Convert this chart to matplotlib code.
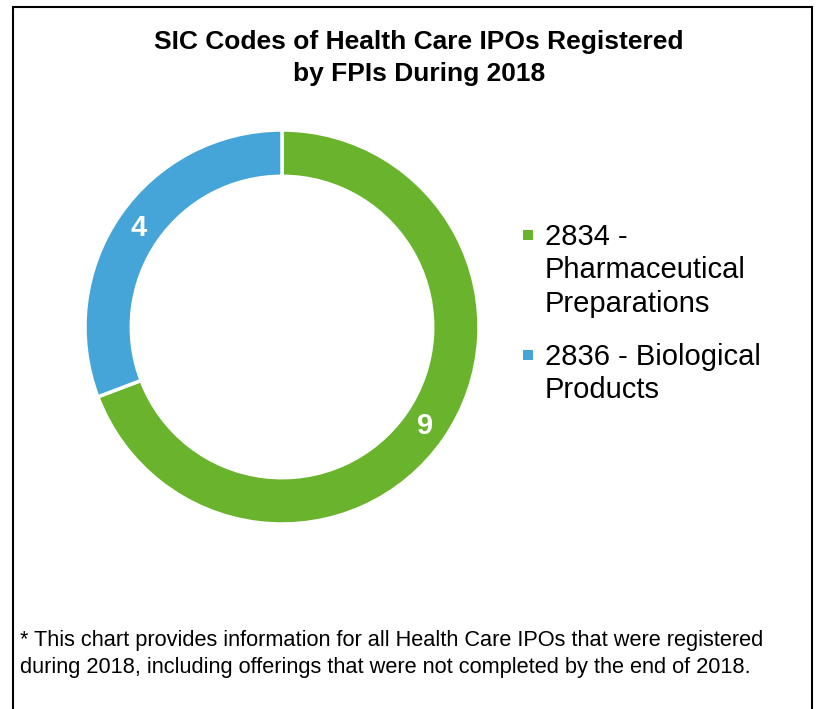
import matplotlib.pyplot as plt
from matplotlib.patches import Rectangle

plt.rcParams['font.family'] = ['Liberation Sans', 'DejaVu Sans']

# Data
labels = ['2834 -\nPharmaceutical\nPreparations', '2836 - Biological\nProducts']
counts = [9, 4]
colors = ['#6AB42D', '#45A5D8']

title = 'SIC Codes of Health Care IPOs Registered\nby FPIs During 2018'
note = ('* This chart provides information for all Health Care IPOs that were registered\n'
        'during 2018, including offerings that were not completed by the end of 2018.')

W, H = 825, 709
fig = plt.figure(figsize=(W / 100, H / 100), dpi=100)

# donut: centre ~(282, 327) px, outer radius ~197 px
cx, cy, r = 282, 327, 197
ax = fig.add_axes([(cx - r) / W, 1 - (cy + r) / H, 2 * r / W, 2 * r / H])
wedges, texts = ax.pie(counts, colors=colors, startangle=90, counterclock=False,
                       radius=1.0, labels=[str(c) for c in counts],
                       labeldistance=0.883,
                       wedgeprops=dict(width=0.235, edgecolor='white', linewidth=2.5),
                       textprops=dict(color='white', fontsize=21, fontweight='bold',
                                      ha='center', va='center'))
ax.set_xlim(-1, 1)
ax.set_ylim(-1, 1)
ax.set_aspect('equal')
ax.axis('off')

# title
fig.text(419 / W, 1 - 58 / H, title, ha='center', va='center', fontsize=19,
         fontweight='bold', linespacing=1.38)

# legend drawn by hand
leg_y = [235, 355]
for lab, col, y in zip(labels, colors, leg_y):
    fig.add_artist(Rectangle((523 / W, 1 - (y + 5) / H), 10 / W, 10 / H,
                             transform=fig.transFigure, facecolor=col, edgecolor='none'))
    fig.text(545 / W, 1 - (y - 12) / H, lab, ha='left', va='top', fontsize=21,
             linespacing=1.24)

# footnote
fig.text(20 / W, 1 - 654 / H, note, ha='left', va='center', fontsize=15.7,
         linespacing=1.4)

# frame around the chart (bottom edge lies off the image)
fig.add_artist(Rectangle((13 / W, -0.02), (812 - 13) / W, 1 - 7 / H + 0.02,
                         transform=fig.transFigure, fill=False, edgecolor='black',
                         linewidth=1.5, clip_on=False))

fig.savefig('out.png', dpi=100)
